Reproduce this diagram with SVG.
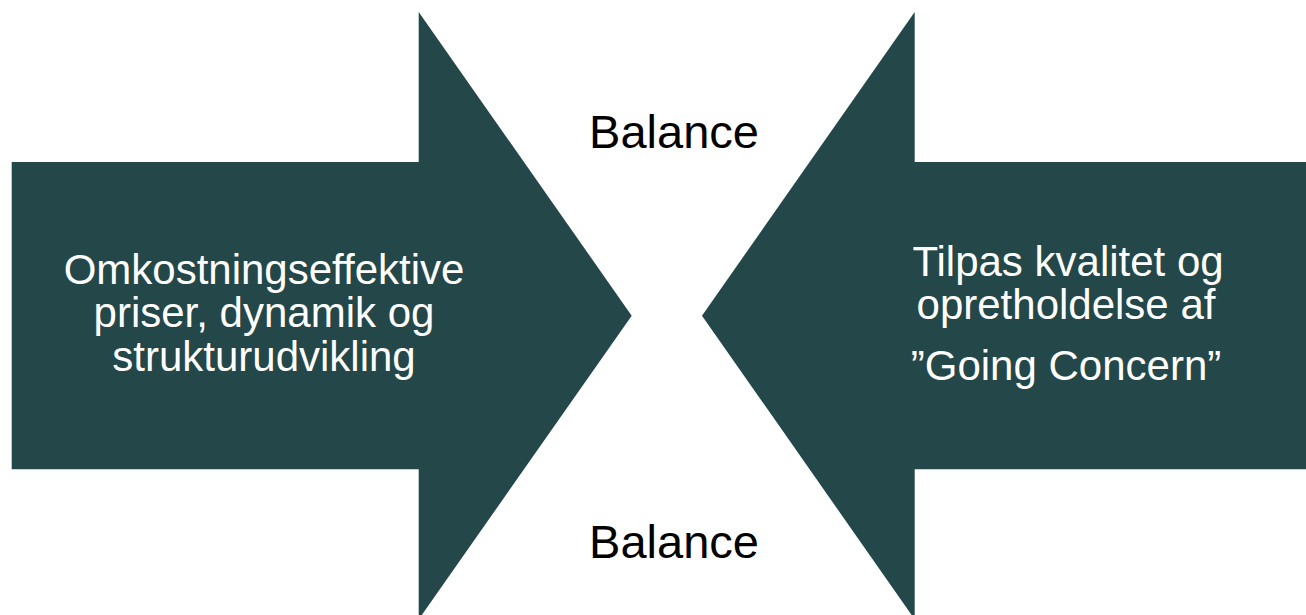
<svg xmlns="http://www.w3.org/2000/svg" width="1306" height="615" viewBox="0 0 1306 615">
<style>
.arrow{fill:#244749}
.t{font-family:"Liberation Sans",Arial,sans-serif;font-size:42px;fill:#ffffff;text-anchor:middle}
.bal{font-family:"Liberation Sans",Arial,sans-serif;font-size:47px;fill:#000000;text-anchor:middle}
</style>
<rect width="1306" height="615" fill="#ffffff"/>
<g id="left-arrow">
<polygon class="arrow" points="11.7,162 418.7,162 418.7,12 631.7,315.7 418.7,619.4 418.7,469.3 11.7,469.3"/>
<text class="t" x="264" y="284">Omkostningseffektive</text>
<text class="t" x="264" y="327">priser, dynamik og</text>
<text class="t" x="264" y="370.5">strukturudvikling</text>
</g>
<g id="right-arrow">
<polygon class="arrow" points="1320,162 914.7,162 914.7,12 702,315.7 914.7,619.4 914.7,469.3 1320,469.3"/>
<text class="t" x="1068" y="276">Tilpas kvalitet og</text>
<text class="t" x="1066" y="318.5">opretholdelse af</text>
<text class="t" x="1066" y="380">”Going Concern”</text>
</g>
<g id="balance-top">
<text class="bal" x="674" y="148.3">Balance</text>
</g>
<g id="balance-bottom">
<text class="bal" x="674" y="558.3">Balance</text>
</g>
<g id="connectors"/>
</svg>
